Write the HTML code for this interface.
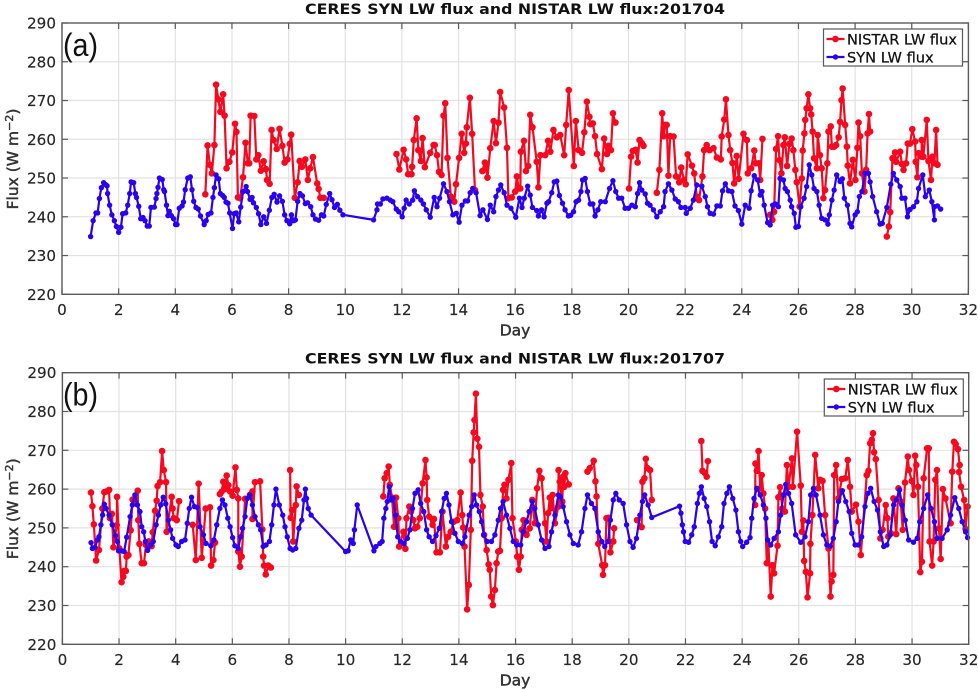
<!DOCTYPE html>
<html>
<head>
<meta charset="utf-8">
<title>CERES SYN LW flux and NISTAR LW flux</title>
<style>
html,body{margin:0;padding:0;background:#fff;width:978px;height:690px;overflow:hidden}
svg{display:block}
text{font-family:"DejaVu Sans","Liberation Sans",sans-serif;fill:#262626}
.tick{font-size:15.2px;stroke:#262626;stroke-width:0.15px}
.title{font-size:14.5px;font-weight:bold;fill:#111}
.axlabel{font-size:15.5px;fill:#333;stroke:#333;stroke-width:0.45px}
.legend{font-size:14.6px;fill:#111;stroke:#111;stroke-width:0.25px}
.panel{font-family:"Liberation Sans",sans-serif;font-size:32px;fill:#111}
</style>
</head>
<body>
<svg id="chart" xmlns="http://www.w3.org/2000/svg" width="978" height="690" viewBox="0 0 978 690"></svg>
<script>
const xTicks = [0,2,4,6,8,10,12,14,16,18,20,22,24,26,28,30,32];
const yTicks = [220,230,240,250,260,270,280,290];
const legendLabels = ["NISTAR LW flux","SYN LW flux"];

const synDaysA = [
1.01,1.1,1.2,1.26,1.32,1.39,1.47,1.54,1.59,1.61,
1.68,1.76,1.85,1.92,2.0,2.08,2.14,2.25,2.32,2.39,
2.44,2.53,2.59,2.63,2.71,2.78,2.86,2.93,3.01,3.08,
3.14,3.26,3.32,3.35,3.39,3.44,3.54,3.59,3.62,3.69,
3.74,3.79,3.86,3.94,4.01,4.06,4.14,4.24,4.29,4.35,
4.44,4.53,4.59,4.65,4.73,4.81,4.89,5.02,5.09,5.16,
5.26,5.33,5.38,5.44,5.53,5.59,5.67,5.73,5.79,5.86,
5.92,6.02,6.08,6.15,6.24,6.31,6.39,6.5,6.55,6.64,
6.71,6.76,6.86,6.94,7.02,7.12,7.22,7.32,7.41,7.49,
7.59,7.68,7.78,7.86,7.94,8.04,8.1,8.18,8.24,8.32,
8.4,8.49,8.59,8.67,8.78,8.86,8.95,9.06,9.16,9.24,
9.33,9.45,9.53,9.62,9.72,9.81,9.92,11,11.12,11.14,
11.24,11.33,11.47,11.59,11.68,11.8,11.89,12.01,12.08,12.15,
12.26,12.38,12.44,12.55,12.67,12.76,12.86,13,13.14,13.24,
13.33,13.47,13.59,13.68,13.8,13.92,14.02,14.12,14.24,14.32,
14.41,14.5,14.62,14.76,14.86,15.02,15.12,15.24,15.32,15.41,
15.49,15.61,15.71,15.85,16.02,16.15,16.24,16.32,16.44,16.53,
16.61,16.76,16.82,16.93,17.02,17.12,17.18,17.29,17.38,17.47,
17.56,17.67,17.76,17.88,17.96,18.06,18.15,18.24,18.32,18.38,
18.47,18.55,18.65,18.74,18.82,18.92,19.02,19.18,19.33,19.45,
19.55,19.65,19.76,19.88,20,20.12,20.24,20.32,20.39,20.47,
20.59,20.67,20.76,20.88,21,21.12,21.24,21.29,21.41,21.53,
21.65,21.76,21.85,22,22.04,22.18,22.29,22.41,22.59,22.71,
22.79,22.88,23,23.12,23.24,23.32,23.42,23.53,23.65,23.76,
23.88,24,24.12,24.26,24.33,24.44,24.56,24.65,24.71,24.79,
24.91,25,25.09,25.18,25.29,25.35,25.47,25.53,25.61,25.71,
25.76,25.85,25.91,26,26.08,26.2,26.29,26.38,26.47,26.55,
26.65,26.73,26.82,26.94,27.04,27.09,27.18,27.26,27.35,27.47,
27.55,27.62,27.73,27.82,27.88,28,28.08,28.15,28.24,28.35,
28.47,28.53,28.62,28.76,28.88,28.96,29.12,29.26,29.35,29.47,
29.59,29.65,29.76,29.85,29.94,30.06,30.18,30.24,30.39,30.48,
30.62,30.71,30.8,30.8,30.91,31.02];
const synFluxA = [
234.9,239,241,241,244.7,247.5,248.8,248.3,248,246,
243,240.5,239,237.5,236,237.3,240.8,241,243,246,
249,248.8,246,245,242.7,239.5,239.8,239,237.6,237.6,
242.4,242.5,244.7,246,247.6,250,249.6,247,246.5,243,
240.3,241.4,240.3,239.5,238,238,242.2,242.8,243.8,247,
250,250.3,247,244,242.4,242,240.2,238,239,240.6,
241,245,247.5,250.8,249.8,246,245.5,245,243.8,243.5,
241,237,240.8,241,238.7,242.5,246.5,247.8,246.5,244.5,
245,243.6,242.4,240.8,238,240,238.3,241.7,245,245.8,
243.8,245.4,244,240.5,239,238.2,240.5,239,239.2,244,
246,245.4,243.4,243.6,242.6,240.5,239.4,239.1,240.5,240.2,
243.2,246,244.4,242.4,243.2,241.7,240.5,239.2,241.8,243.3,
243.3,244.6,244.8,244.3,243.9,242,241.3,240,242.2,244.3,
243.3,244.3,246.7,245.2,244.3,243.3,241.8,239.9,245,242.6,
244.8,248.5,246.5,243.9,240.5,240.9,238.6,243,244.1,244.1,
246.2,247.3,246.2,240.3,241.8,239.3,243,241.3,245.2,246.9,
248.2,246.2,243,242.2,239.9,244.8,242.4,244.8,247.9,245.6,
242.4,241.6,240.2,241.8,240,243.5,243.9,246.2,249,249.2,
245.5,243.5,241.8,240.2,240.4,241.3,243.9,244.3,246.5,249.5,
249.9,246.5,243.3,243.3,240.2,241.8,243.9,243.9,247.3,249.3,
246.5,244.8,244.8,242.2,242.2,243,242.6,246,248.8,246.9,
245.9,243.5,243,241.8,240,241.3,242.6,246.5,248.5,246.9,
244.6,243.9,242.4,242.4,240.9,242.2,244.3,248.2,247.9,245.2,
242.6,240.9,240.7,242.8,242.8,246.7,248.5,246.7,246.5,242.8,
241.6,238.1,243,242.2,246.7,250.6,249.5,245.6,246.5,243,
238.5,237.9,243,243.3,242.6,249.9,249.5,247.3,246.5,244.3,
242.6,240.9,237.3,237.5,242.6,244.8,247.8,253.4,250.8,247.3,
246.5,243,239.6,239.2,238.1,240.5,244.3,246.9,250.8,249.1,
249.8,244.8,243,238.3,237.4,240.5,241.3,245.2,246.5,251.2,
251.2,249,245.2,241.3,238.1,238.3,242.4,248.4,251.2,249.5,
247.8,244.8,244.8,240,241.9,242.6,243.9,247.3,250.8,245.2,
246.9,243.9,239.2,242.6,242.8,242];

const nistarDaysA = [
5.06,5.14,5.22,5.29,5.38,5.44,5.52,5.59,5.69,5.74,
5.81,5.91,6.01,6.11,6.16,6.21,6.29,6.39,6.48,6.56,
6.61,6.66,6.79,6.86,6.93,7.02,7.12,7.2,7.24,7.33,
7.4,7.47,7.58,7.68,7.78,7.86,7.96,8.04,8.09,8.22,
8.32,8.39,8.47,8.59,8.68,8.76,8.86,9.01,9.06,9.12,
9.24,null,11.81,11.91,12.06,12.15,12.22,12.34,12.36,12.42,
12.52,12.58,12.67,12.73,12.81,13,13.12,13.16,13.24,13.31,
13.4,13.47,13.53,13.61,13.73,13.85,13.91,14.02,14.11,14.2,
14.26,14.29,14.4,14.48,14.58,null,14.84,14.93,14.96,15.02,
15.12,15.24,15.32,15.41,15.47,15.61,15.71,15.76,15.88,16,
16.06,16.12,16.18,16.2,16.31,16.38,16.46,16.53,16.61,16.76,
16.82,16.89,17.06,17.16,17.24,17.35,17.47,17.59,17.73,17.8,
17.89,18.07,18.14,18.24,18.36,18.44,18.53,18.62,18.65,18.74,
18.82,18.89,19.06,19.14,19.24,19.29,19.38,19.45,19.54,null,
20.02,20.09,20.15,20.25,20.32,20.39,20.47,20.53,null,21,
21.09,21.19,21.24,21.29,21.35,21.41,21.47,21.59,21.68,21.79,
21.86,21.96,22.02,22.09,22.24,22.32,22.41,22.49,22.61,22.67,
22.76,22.86,23,23.12,23.26,23.29,23.38,23.44,23.53,23.59,
23.67,23.73,23.82,23.89,24.06,24.18,24.21,24.33,24.44,24.49,
24.6,24.65,24.73,null,25,25.08,25.14,25.21,25.28,25.33,
25.4,25.47,25.52,25.6,25.68,25.76,25.82,25.89,25.94,26.04,
26.12,26.15,26.21,26.24,26.29,26.35,26.41,26.45,26.5,26.55,
26.65,26.68,26.76,26.82,26.88,26.94,27.02,27.06,27.14,27.18,
27.26,27.33,27.42,27.47,27.52,27.56,27.65,27.71,27.74,27.82,
27.92,28.01,28.08,28.12,28.18,28.24,28.33,28.39,28.44,28.49,
28.53,null,29.12,29.19,29.24,29.32,29.41,29.45,29.59,29.65,
29.71,29.8,29.86,29.94,30.02,30.12,30.14,30.2,30.24,30.35,
30.35,30.41,30.53,30.59,30.68,30.73,30.8,30.86,30.91];
const nistarFluxA = [
245.8,258.4,253.4,251.2,258.5,274.1,270.3,267.1,271.6,266.1,
252.5,254.2,256.6,264,261.9,245,244.8,250.2,259.1,253.8,
253.8,266.1,266,254.8,255.9,251.9,254.3,252.3,249.5,248.5,
262.4,259.8,257.5,262.7,258.3,254,254.8,258.8,261.2,244.9,
248.9,254.4,252.9,254.8,249.5,252.5,255.4,248.6,247.2,244.9,
244.9,null,256.2,252.2,257.3,254.8,251,251,252.9,259.8,
265.4,257.2,254.4,260.3,252.8,256.5,258.5,258.5,255.9,251.6,
250.8,266.1,269.3,255.2,245.2,243.9,248.4,255.2,261.4,256.5,
258.9,263.1,270.7,261.4,246.9,null,251.8,254,252.8,250.1,
257.7,264.7,259,264.3,272.2,268.2,257.8,244.8,245,246.5,
250.4,247.3,247.3,256.8,259.6,251.8,253.1,266.3,263.1,254.2,
247.6,255.9,255.9,259.6,256.8,262.4,260.5,261.1,255.9,263.7,
272.7,253.1,264.7,257.2,256.5,261.8,269.7,265.8,263.9,264.1,
260.8,256.2,252.3,260.2,256.2,258.3,257.2,266.7,264.3,null,
247.3,255.5,257,257.3,254,259.8,259,258.3,null,246.2,
252.1,266.7,260.8,263.7,263.7,250.6,260.8,260.7,250.4,248.9,
252.7,249.5,248.4,256.1,253.2,251.2,245.2,244.3,250.4,257.2,
258.5,257.2,257.7,255.3,254.8,260.7,265.1,270.3,261.1,257.2,
253.9,248.6,255.7,249.8,261.4,259.8,251.2,252.5,257.1,253.8,
253.8,249.5,260.1,null,240.5,239.2,241.3,257.5,260.8,254.6,
251.2,258.5,260.5,253.1,258.8,260.2,257.2,252.1,248.9,242.6,
249.9,257.1,261.5,265,268,271.6,268,266.4,262,255.1,
252.5,261.1,255.9,252.5,244.8,246.9,253.8,262,263.3,258.1,
258.1,258.5,260.5,264.5,270.1,273.1,263.7,258.1,253.2,248.6,
254.7,249.5,257.8,264.3,260.8,251.2,246.5,252.1,261.5,266.5,
262,null,234.9,237.5,241.2,255.1,256.6,254.2,256.8,253.6,
252.1,253.8,258.9,258.9,262.6,259.4,254.2,250.2,256.4,255.5,
259.8,255.5,265,254.4,249.5,255.5,253.8,262.4,253.4];

const synDaysB = [
1.01,1.06,1.15,1.24,1.29,1.36,1.42,1.48,1.54,1.65,
1.76,1.88,1.94,1.98,2.09,2.18,2.27,2.39,2.47,2.56,
2.65,2.74,2.8,2.87,2.93,3.01,3.12,3.21,3.31,3.39,
3.47,3.56,3.65,3.74,3.82,3.89,4.01,4.09,4.21,4.33,
4.41,4.48,4.56,4.66,4.76,4.86,4.98,5.07,5.24,5.35,
5.45,5.56,5.65,5.74,5.84,5.92,6.01,6.09,6.21,6.29,
6.36,6.45,6.53,6.62,6.71,6.8,6.92,7,7.09,7.19,
7.31,7.39,7.47,7.54,7.66,7.78,7.86,7.94,8.04,8.13,
8.24,8.35,8.45,8.53,8.58,8.62,8.68,8.78,10,10.09,
10.18,10.27,10.31,10.41,11,11.07,11.21,11.29,11.35,11.42,
11.47,11.54,11.61,11.68,11.76,11.84,11.94,12.06,12.18,12.27,
12.36,12.45,12.56,12.65,12.76,12.86,12.95,13.07,13.19,13.31,
13.39,13.48,13.56,13.65,13.74,13.86,13.98,14.12,14.21,14.36,
14.45,14.54,14.62,14.72,14.8,14.88,15,15.15,15.27,15.39,
15.47,15.56,15.68,15.8,15.92,16.04,16.18,16.27,16.39,16.48,
16.59,16.68,16.8,16.92,17.04,17.18,17.27,17.39,17.51,17.59,
17.68,17.8,17.92,18.04,18.21,18.33,18.45,18.54,18.68,18.8,
18.92,19.04,19.15,19.27,19.35,19.45,19.54,19.66,19.8,19.92,
20.04,20.15,20.27,20.39,20.48,20.56,20.68,20.81,21.79,21.84,
21.89,21.93,21.99,22.11,22.22,22.31,22.42,22.49,22.56,22.66,
22.75,22.85,22.94,23.05,23.16,23.28,23.36,23.46,23.55,23.67,
23.78,23.87,23.95,24.02,24.16,24.28,24.34,24.42,24.52,24.64,
24.75,24.84,24.9,25.01,25.13,25.28,25.36,25.46,25.54,25.64,
25.75,25.89,26.07,26.22,26.34,26.42,26.52,26.61,26.75,26.87,
26.99,27.11,27.22,27.32,27.4,27.54,27.66,27.78,27.87,27.99,
28.11,28.22,28.34,28.44,28.54,28.66,28.78,28.88,29,29.11,
29.23,29.35,29.44,29.56,29.64,29.76,29.88,30.05,30.18,30.27,
30.41,30.55,30.67,30.79,30.88,31.06,31.24,31.36,31.51,31.65,
31.77,31.89,31.96];
const synFluxB = [
246.2,244.7,245,246.9,247.7,250.8,253.3,256.1,255,253.3,
250.8,248,246.5,244.1,244.1,243.9,247.6,252.9,255.9,258.5,
255.9,254.2,250.3,249,246.5,244.2,245.6,246.5,250.8,253.3,
255.9,257.9,256.2,252,249.5,247.3,245.6,245.2,246.5,246.9,
251.2,255,257.9,255.5,255.3,250.3,248.2,246,245.4,246.9,
250.8,255,257.2,255.9,252.5,250.3,247.5,245.4,244.7,247.7,
249.9,252.9,257.6,258.5,255.9,252.9,250.8,249.5,245.2,245.6,
246.5,250.8,255.9,260,255.9,253.3,250.3,247.7,244.7,244.3,
244.7,249.9,252,257.2,260,257.6,255,253.3,243.9,244.1,
246.9,246,249.5,255.9,244.1,245.2,246,246.5,252.5,255,
256.8,260.6,257.2,257.6,253.3,247.7,246.5,245.9,247.3,249.5,
255,258.9,259.8,256.3,254.2,249.5,247.7,246.5,248,249.9,
254.2,257.6,258.9,255.9,251.6,248.6,246.5,246,247.7,253.3,
255.5,258.5,255.9,254.2,251.6,248.2,246.5,246.5,248.2,252,
255,256.8,253.3,249.9,246.5,245.6,245.6,249,251.6,254.2,
256.8,255,250.8,246.9,244.7,245.2,249,253.3,258.5,258,
255.5,251.6,248.2,246,245.6,249,255,258.5,256.3,255,
249,246.5,245.2,246.5,252,257.2,258.9,257.2,256.3,250.8,
246.5,245,247.3,253.3,256.8,258.5,255.9,252.7,255.6,253.8,
250.8,249,246.5,246.3,248.2,250.3,256.3,258.9,260.6,257.6,
255.5,251.6,246.5,245.4,247.7,250.3,256.3,258.9,260.6,257.6,
254.6,249,246.5,245.2,246.3,247.5,252.5,257.6,260.2,258.5,
255.9,252.5,246.9,245.6,247.3,249,253.3,258.5,261.2,258.9,
256.3,248.2,246.3,247.7,251.6,258.5,260.2,258.5,253.3,248.2,
245.6,245.3,247.3,251.6,256.8,259.6,256.8,254.2,248.6,245.6,
245.6,247.7,255.5,258.9,260.2,256.8,254.6,249,245.2,245.6,
248.2,255.9,257.2,259.8,255.9,252,246.9,246.3,247.3,251.6,
255,258.5,255,251.6,247.3,247.3,249.5,253.3,257.8,255,
251.6,249,247.5];

const nistarDaysB = [
1.01,1.06,1.11,1.19,1.29,1.41,1.48,1.56,1.65,1.68,
1.75,1.8,1.92,1.93,2.01,2.09,2.15,2.18,2.24,2.27,
2.33,2.41,2.48,2.59,2.66,2.68,2.72,2.8,2.88,2.95,
3.05,3.15,3.19,3.27,3.33,3.36,3.45,3.52,3.58,3.66,
3.68,3.86,3.89,3.93,4.04,4.12,null,4.6,4.71,4.81,
4.92,5.06,5.21,5.25,5.33,5.39,null,5.56,5.62,5.68,
5.74,5.8,5.86,5.92,6.01,6.11,6.16,6.21,6.21,6.27,
6.33,6.45,6.62,6.71,6.71,6.8,6.98,7.06,7.09,7.12,
7.18,7.27,7.36,null,8.04,8.06,8.11,8.15,8.24,8.27,
8.35,null,11.33,11.38,11.45,11.52,11.56,11.64,11.71,11.78,
11.86,11.89,12.04,12.11,12.15,12.25,12.31,12.39,12.45,12.53,
12.62,12.72,12.82,12.86,12.88,12.95,13.07,13.12,13.21,13.33,
13.42,13.54,13.62,13.71,13.82,13.94,14.06,14.12,14.15,14.2,
14.29,14.35,14.42,14.47,14.52,14.55,14.6,14.65,14.71,14.76,
14.84,14.89,14.98,15.05,15.09,15.14,15.2,15.27,15.33,15.39,
15.45,15.51,15.56,15.61,15.68,15.75,15.85,15.89,16.01,16.06,
16.12,16.18,16.22,16.28,16.39,16.5,16.59,16.68,16.76,16.84,
16.92,17.04,17.09,17.15,17.21,17.27,17.31,17.39,17.51,17.52,
17.56,17.65,17.68,17.72,17.76,17.88,null,18.54,18.62,18.76,
18.82,18.86,18.92,19.06,19.09,19.16,19.21,19.28,19.35,19.45,
19.48,null,20.29,20.45,20.48,20.55,20.6,20.66,20.75,20.81,
null,22.56,22.6,22.69,22.75,22.79,null,24.46,24.47,24.52,
24.58,24.64,24.69,24.75,24.81,24.87,24.93,25.01,25.07,25.13,
25.25,25.28,25.34,25.42,25.51,25.58,25.64,25.76,25.79,25.94,
26.07,26.11,26.16,26.19,26.25,26.31,26.4,26.41,26.48,26.58,
26.69,26.75,26.84,26.93,27.05,27.12,27.16,27.22,27.25,27.32,
27.4,27.52,27.64,27.73,27.81,27.87,28.02,28.11,28.19,28.4,
28.46,28.52,28.58,28.62,28.66,28.72,28.82,28.88,28.96,29.07,
29.13,29.16,29.25,29.34,29.44,29.52,29.6,29.67,29.75,29.85,
29.89,29.99,30.05,30.11,30.15,30.21,30.29,30.35,30.41,30.53,
30.59,30.62,30.71,30.76,30.82,30.88,30.95,31.01,31.09,31.18,
31.36,31.42,31.48,31.54,31.62,31.68,31.66,31.73,31.84,31.89,
31.96];
const nistarFluxB = [
259.1,255.6,250.9,241.6,244.3,255,259.2,259.4,259.8,252.5,
253.6,245,250.7,258,244.7,236,237.4,238.9,238.9,242.6,
243,249.4,257.3,256.3,259.6,252,245.9,240.9,240.9,245.6,
246.5,245.3,248.9,254.4,257,260.8,261.8,269.8,264.9,261.8,
249,258,255,252.5,252,256.9,null,250.8,241.7,261.4,
242.3,255,255.3,240.3,241.7,246.2,null,258.7,259.3,261.9,
260,263.5,261,259.4,258.3,265.6,259.8,257.6,243.9,240,
242.6,257.5,258.5,259.4,252.3,261.8,262,249.6,242.6,240.3,
238,240.3,239.8,null,264.9,252.6,254.6,246.5,255.9,260.7,
258.5,null,258.1,262.8,264.1,265.8,261.1,257.8,250.3,257.8,
252.5,245.2,249,244.6,252.5,255.5,254.2,252,249.9,250.3,
252.5,261.5,267.5,263,257.2,252.9,250.8,252.3,243.7,243.7,
254.2,245.2,247.7,249,251.6,252,259.1,253.3,250.1,245.2,
229,235.3,249.5,267.3,274.6,277.8,284.6,273,270.9,258.5,
255.5,248.2,244.3,240.6,239.2,232.3,230.1,234,240.9,243.9,
244.1,252.5,259.8,261.1,257.6,262.4,266.7,252.5,246.5,242.6,
239.2,242.6,249.5,252,248.2,249.9,257.2,251.2,260.2,264.7,
262.8,251.2,246.5,253.8,257.8,255.1,258.5,251.2,255.5,264.9,
261.9,256.8,263.2,260.6,264.1,261.2,null,264.5,265.4,267.3,
262,258.1,245.9,240.4,237.9,240.4,252.5,252.6,243.7,246.5,
249.9,null,252,250.2,261.9,262.8,267.8,265.4,264.9,257.2,
null,272.4,264.7,264.1,263.2,267.2,null,255.9,266.6,264.7,
269.8,260.2,263.6,258.9,255,240.9,245.6,232.3,240.4,238.3,
245.4,257.9,260.5,255,254.2,266.2,260.6,267.9,260.6,274.8,
260.9,249,251.9,241.5,238.7,232.1,238.3,245.9,253.3,268.8,
260.2,262.4,262.1,253.3,244.7,232.3,236.2,237.9,263.6,266.2,
257.6,262.6,262.8,267.5,260.6,254.2,256,251.6,243,263.6,
264.7,271.8,272.7,274.4,269.5,267.7,257.2,247.3,249.5,255.9,
252.5,247.8,248.6,257.6,248.4,260.2,256.8,249.5,261.7,268.4,
264.9,262.1,258.5,268.6,266.2,260.6,238.6,241.3,262.8,270.5,
270.5,246.5,240.3,246.5,262.4,264.9,249.9,242,260,257.6,
251.2,264.5,272.2,271.6,270.3,266.2,264.4,260.6,257.2,249.7,
255.5];

const NS = "http://www.w3.org/2000/svg";
const svg = document.getElementById("chart");
const RED = "#f6081f";
const BLUE = "#2a00f2";
const RED_R = 3.3;
const BLUE_R = 2.7;
const LINE_W = 2.2;

function make(tag, attrs, parent){
  const el = document.createElementNS(NS, tag);
  for (const k in attrs) el.setAttribute(k, attrs[k]);
  (parent || svg).appendChild(el);
  return el;
}

function scaleX(day, box){ return box.left + (day - 0) / 32 * (box.right - box.left); }
function scaleY(v, box){ return box.bottom - (v - 220) / 70 * (box.bottom - box.top); }

function drawSeries(group, days, flux, box, color, lineW, radius, prefix){
  let d = "";
  let pen = false;
  const n = Math.min(days.length, flux.length);
  for (let i = 0; i < n; i++){
    if (flux[i] === null || days[i] === null){ pen = false; continue; }
    const px = scaleX(days[i], box).toFixed(2);
    const py = scaleY(flux[i], box).toFixed(2);
    d += (pen ? "L" : "M") + px + " " + py;
    pen = true;
  }
  const line = make("path", {d:d, fill:"none", stroke:color, "stroke-width":lineW, "stroke-linejoin":"round"}, group);
  
  
  for (let i = 0; i < n; i++){
    if (flux[i] === null || days[i] === null) continue;
    const c = make("circle", {cx:scaleX(days[i], box).toFixed(2), cy:scaleY(flux[i], box).toFixed(2), r:radius, fill:color}, group);
    
    
  }
}

function drawPanel(cfg){
  const box = cfg.box;
  const g = make("g", {});
  
  

  const grid = make("g", {stroke:"#e2e2e2", "stroke-width":1.2}, g);
  
  
  xTicks.forEach(function(t){
    if (t > 0 && t < 32) make("line", {x1:scaleX(t,box), x2:scaleX(t,box), y1:box.top, y2:box.bottom}, grid);
  });
  yTicks.forEach(function(t){
    if (t > 220 && t < 290) make("line", {x1:box.left, x2:box.right, y1:scaleY(t,box), y2:scaleY(t,box)}, grid);
  });

  const red = make("g", {}, g);
  
  
  drawSeries(red, cfg.nDays, cfg.nFlux, box, RED, LINE_W, RED_R, cfg.id + '-nistar');

  const blue = make("g", {}, g);
  
  
  drawSeries(blue, cfg.sDays, cfg.sFlux, box, BLUE, LINE_W, BLUE_R, cfg.id + '-syn');

  const frame = make("rect", {x:box.left, y:box.top, width:box.right-box.left, height:box.bottom-box.top, fill:"none", stroke:"#5a5a5a", "stroke-width":1.4}, g);
  
  

  const ticks = make("g", {stroke:"#5a5a5a", "stroke-width":1.2}, g);
  
  
  xTicks.forEach(function(t){
    const x = scaleX(t,box);
    make("line", {x1:x, x2:x, y1:box.bottom, y2:box.bottom-6}, ticks);
    make("line", {x1:x, x2:x, y1:box.top, y2:box.top+6}, ticks);
    const lab = make("text", {x:x, y:box.bottom+20.5, "text-anchor":"middle", class:"tick"}, g);
    lab.textContent = t;
    
    
  });
  yTicks.forEach(function(t){
    const y = scaleY(t,box);
    make("line", {x1:box.left, x2:box.left+6, y1:y, y2:y}, ticks);
    make("line", {x1:box.right, x2:box.right-6, y1:y, y2:y}, ticks);
    const lab = make("text", {x:box.left-6, y:y+5.5, "text-anchor":"end", class:"tick"}, g);
    lab.textContent = t;
    
    
  });

  const title = make("text", {x:515, y:box.top-9, "text-anchor":"middle", class:"title", textLength:420, lengthAdjust:"spacingAndGlyphs"}, g);
  title.textContent = cfg.title;
  
  

  const xl = make("text", {x:515, y:box.bottom+41, "text-anchor":"middle", class:"axlabel"}, g);
  xl.textContent = "Day";
  
  

  const cy = box.top + 136;
  const yl = make("text", {x:0, y:0, "text-anchor":"middle", class:"axlabel", transform:"translate(18 " + cy + ") rotate(-90)"}, g);
  
  
  const t1 = make("tspan", {}, yl);
  t1.textContent = "Flux (W m";
  const t2 = make("tspan", {dy:-5, "font-size":"11px"}, yl);
  t2.textContent = "\u22122";
  const t3 = make("tspan", {dy:5}, yl);
  t3.textContent = ")";

  const pl = make("text", {x:63, y:box.top+33, class:"panel", textLength:35, lengthAdjust:"spacingAndGlyphs"}, g);
  pl.textContent = cfg.tag;
  
  

  const lg = make("g", {}, g);
  
  
  const lb = cfg.legend;
  make("rect", {x:lb.x, y:lb.y, width:139, height:37, fill:"#fff", stroke:"#5a5a5a", "stroke-width":1.2}, lg);
  [[RED,RED_R,lb.y+10],[BLUE,BLUE_R,lb.y+28]].forEach(function(row, i){
    const item = make("g", {}, lg);
    
    
    make("line", {x1:lb.x+3, x2:lb.x+21, y1:row[2], y2:row[2], stroke:row[0], "stroke-width":LINE_W}, item);
    make("circle", {cx:lb.x+12, cy:row[2], r:row[1], fill:row[0]}, item);
    const tx = make("text", {x:lb.x+23.5, y:row[2]+5.3, class:"legend"}, item);
    tx.textContent = legendLabels[i];
  });
}

drawPanel({
  id:"panel-a", tag:"(a)", title:"CERES SYN LW flux and NISTAR LW flux:201704",
  box:{left:62, right:968.4, top:23, bottom:294.3},
  legend:{x:823.5, y:29},
  sDays:synDaysA, sFlux:synFluxA, nDays:nistarDaysA, nFlux:nistarFluxA
});
drawPanel({
  id:"panel-b", tag:"(b)", title:"CERES SYN LW flux and NISTAR LW flux:201707",
  box:{left:62.4, right:968.7, top:372.7, bottom:644.3},
  legend:{x:824.3, y:379},
  sDays:synDaysB, sFlux:synFluxB, nDays:nistarDaysB, nFlux:nistarFluxB
});
</script>
</body>
</html>
